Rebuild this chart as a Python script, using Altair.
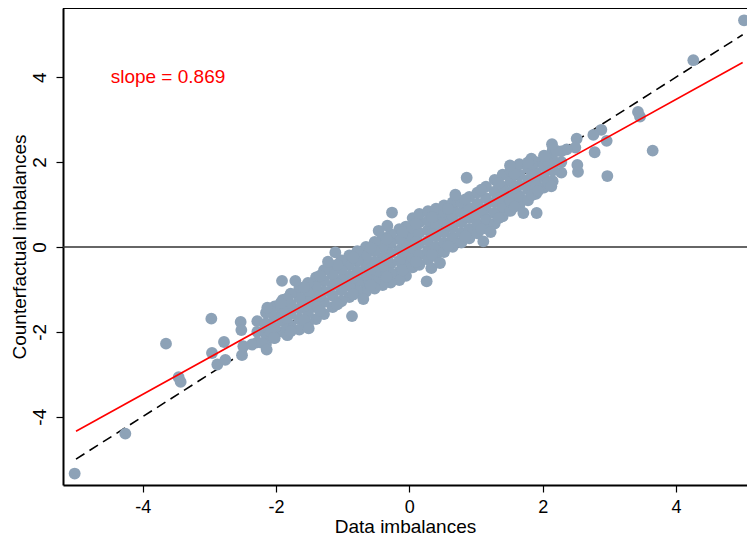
import altair as alt
import pandas as pd

# ---- data (x = data imbalance, y = counterfactual imbalance) ----
cloud_neg = [
    (-0.05, 0.48), (-0.05, 0.25), (-0.05, 0.02), (-0.05, -0.22), (-0.05, -0.45), (-0.05, -0.68),
    (-0.15, 0.42), (-0.15, 0.18), (-0.15, -0.08), (-0.15, -0.33), (-0.15, -0.58), (-0.15, -0.78),
    (-0.28, 0.30), (-0.28, 0.08), (-0.28, -0.15), (-0.28, -0.40), (-0.28, -0.62), (-0.28, -0.84),
    (-0.40, 0.22), (-0.40, 0.00), (-0.40, -0.25), (-0.40, -0.50), (-0.40, -0.72), (-0.40, -0.90),
    (-0.52, 0.12), (-0.52, -0.10), (-0.52, -0.35), (-0.52, -0.60), (-0.52, -0.82), (-0.52, -0.98),
    (-0.65, 0.00), (-0.65, -0.22), (-0.65, -0.45), (-0.65, -0.70), (-0.65, -0.92), (-0.65, -1.05),
    (-0.78, -0.10), (-0.78, -0.33), (-0.78, -0.58), (-0.78, -0.82), (-0.78, -1.05),
    (-0.90, -0.20), (-0.90, -0.42), (-0.90, -0.68), (-0.90, -0.92), (-0.90, -1.18),
    (-1.02, -0.32), (-1.02, -0.54), (-1.02, -0.78), (-1.02, -1.02), (-1.02, -1.28),
    (-1.15, -0.45), (-1.15, -0.66), (-1.15, -0.90), (-1.15, -1.15), (-1.15, -1.42),
    (-1.28, -0.55), (-1.28, -0.80), (-1.28, -1.05), (-1.28, -1.30), (-1.28, -1.58),
    (-1.40, -0.72), (-1.40, -0.95), (-1.40, -1.18), (-1.40, -1.42), (-1.40, -1.70),
    (-1.52, -0.85), (-1.52, -1.08), (-1.52, -1.30), (-1.52, -1.55), (-1.52, -1.80),
    (-1.65, -0.98), (-1.65, -1.20), (-1.65, -1.45), (-1.65, -1.70), (-1.65, -1.95),
    (-1.78, -1.10), (-1.78, -1.35), (-1.78, -1.58), (-1.78, -1.85),
    (-1.90, -1.25), (-1.90, -1.50), (-1.90, -1.75), (-1.90, -2.00),
    (-2.02, -1.40), (-2.02, -1.65), (-2.02, -1.90), (-2.02, -2.15),
    (-2.15, -1.55), (-2.15, -1.80), (-2.15, -2.05), (-2.15, -2.28),
    (-2.28, -1.75), (-2.28, -2.00), (-2.28, -2.25),
    (-0.10, 0.35), (-0.10, -0.12), (-0.10, -0.55),
    (-0.34, 0.18), (-0.34, -0.30), (-0.34, -0.70),
    (-0.58, -0.02), (-0.58, -0.52), (-0.58, -0.90),
    (-0.84, -0.25), (-0.84, -0.72), (-0.84, -1.12),
    (-1.08, -0.42), (-1.08, -0.88), (-1.08, -1.35),
    (-1.34, -0.68), (-1.34, -1.15), (-1.34, -1.50),
    (-1.58, -0.95), (-1.58, -1.40), (-1.58, -1.72),
    (-1.84, -1.22), (-1.84, -1.68), (-1.84, -1.95),
    (-2.08, -1.52), (-2.08, -2.00),
    (-0.26, 0.81), (-0.33, 0.50), (-1.11, -0.13), (-0.86, -1.63), (-0.69, -1.23),
    (-1.51, -1.92), (-1.83, -2.08), (-0.46, 0.38), (-1.22, -0.35),
]

cloud_pos = [
    (0.05, -0.48), (0.05, -0.25), (0.05, -0.02), (0.05, 0.22), (0.05, 0.45), (0.05, 0.68),
    (0.15, -0.42), (0.15, -0.18), (0.15, 0.08), (0.15, 0.33), (0.15, 0.58), (0.15, 0.78),
    (0.28, -0.30), (0.28, -0.08), (0.28, 0.15), (0.28, 0.40), (0.28, 0.62), (0.28, 0.84),
    (0.40, -0.22), (0.40, 0.00), (0.40, 0.25), (0.40, 0.50), (0.40, 0.72), (0.40, 0.90),
    (0.52, -0.12), (0.52, 0.10), (0.52, 0.35), (0.52, 0.60), (0.52, 0.82), (0.52, 0.98),
    (0.65, 0.00), (0.65, 0.22), (0.65, 0.45), (0.65, 0.70), (0.65, 0.92), (0.65, 1.05),
    (0.78, 0.10), (0.78, 0.33), (0.78, 0.58), (0.78, 0.82), (0.78, 1.05),
    (0.90, 0.20), (0.90, 0.42), (0.90, 0.68), (0.90, 0.92), (0.90, 1.18),
    (1.02, 0.32), (1.02, 0.54), (1.02, 0.78), (1.02, 1.02), (1.02, 1.28),
    (1.15, 0.45), (1.15, 0.66), (1.15, 0.90), (1.15, 1.15), (1.15, 1.42),
    (1.28, 0.55), (1.28, 0.80), (1.28, 1.05), (1.28, 1.30), (1.28, 1.58),
    (1.40, 0.72), (1.40, 0.95), (1.40, 1.18), (1.40, 1.42), (1.40, 1.70),
    (1.52, 0.85), (1.52, 1.08), (1.52, 1.30), (1.52, 1.55), (1.52, 1.80),
    (1.65, 0.98), (1.65, 1.20), (1.65, 1.45), (1.65, 1.70), (1.65, 1.95),
    (1.78, 1.10), (1.78, 1.35), (1.78, 1.58), (1.78, 1.85),
    (1.90, 1.25), (1.90, 1.50), (1.90, 1.75), (1.90, 2.00),
    (2.02, 1.40), (2.02, 1.65), (2.02, 1.90), (2.02, 2.15),
    (2.15, 1.55), (2.15, 1.80), (2.15, 2.05), (2.15, 2.28),
    (2.28, 1.75), (2.28, 2.00), (2.28, 2.25),
    (0.10, -0.35), (0.10, 0.12), (0.10, 0.55),
    (0.34, -0.18), (0.34, 0.30), (0.34, 0.70),
    (0.58, 0.02), (0.58, 0.52), (0.58, 0.90),
    (0.84, 0.25), (0.84, 0.72), (0.84, 1.12),
    (1.08, 0.42), (1.08, 0.88), (1.08, 1.35),
    (1.34, 0.68), (1.34, 1.15), (1.34, 1.50),
    (1.58, 0.95), (1.58, 1.40), (1.58, 1.72),
    (1.84, 1.22), (1.84, 1.68), (1.84, 1.95),
    (2.08, 1.52), (2.08, 2.00),
    (0.26, -0.81), (0.33, -0.50), (1.11, 0.13), (0.86, 1.63), (0.69, 1.23),
    (1.51, 1.92), (1.83, 2.08), (0.46, -0.38), (1.22, 0.35),
]

outliers_neg = [
    (-5.02, -5.34), (-4.26, -4.40), (-3.65, -2.28), (-3.46, -3.07), (-3.43, -3.18),
    (-2.97, -1.69), (-2.53, -1.77), (-2.52, -1.96), (-2.78, -2.24), (-2.96, -2.50),
    (-2.88, -2.77), (-2.76, -2.66), (-2.51, -2.55), (-2.49, -2.34), (-2.36, -2.30),
    (-2.21, -2.26), (-2.14, -2.42), (-2.13, -1.43), (-2.16, -1.82), (-1.93, -1.32),
    (-1.71, -0.80), (-2.03, -2.14), (-1.78, -1.99), (-1.91, -0.80),
]

outliers_pos = [
    (5.02, 5.34), (4.26, 4.40), (3.65, 2.27), (3.46, 3.07), (3.43, 3.18),
    (2.97, 1.67), (2.53, 1.77), (2.52, 1.93), (2.78, 2.23), (2.96, 2.50),
    (2.88, 2.76), (2.76, 2.64), (2.51, 2.55), (2.49, 2.34), (2.36, 2.30),
    (2.21, 2.26), (2.14, 2.42), (2.13, 1.43), (2.16, 1.82), (1.93, 1.32),
    (1.71, 0.80), (2.03, 2.14), (1.78, 1.99), (1.91, 0.80),
]

# reference lines
line_x = [-5.0, 5.0]
diag_y = [-5.0, 5.0]          # 45-degree line
fit_y = [-4.345, 4.345]       # fitted line, slope 0.869
zero_y = [0.0]
note_x = [-4.48]
note_y = [4.0]
note_text = ["slope = 0.869"]

x_ticks = [-4, -2, 0, 2, 4]
y_ticks = [-4, -2, 0, 2, 4]

# ---- tables ----
pts = cloud_neg + cloud_pos + outliers_neg + outliers_pos
df_pts = pd.DataFrame(pts, columns=["x", "y"])
df_diag = pd.DataFrame({"x": line_x, "y": diag_y})
df_fit = pd.DataFrame({"x": line_x, "y": fit_y})
df_zero = pd.DataFrame({"y": zero_y})
df_note = pd.DataFrame({"x": note_x, "y": note_y, "t": note_text})
df_one = pd.DataFrame({"a": [0]})

W, H = 684, 477
FONT = "Liberation Sans"

xs = alt.Scale(domain=[-5.195, 5.065], nice=False, zero=False)
ys = alt.Scale(domain=[-5.61, 5.63], nice=False, zero=False)

x_axis = alt.Axis(values=x_ticks, title="Data imbalances", grid=False,
                  labelExpr="'' + datum.value", labelFontSize=18, titleFontSize=19,
                  tickSize=7, labelPadding=6, titlePadding=1)
y_axis = alt.Axis(values=y_ticks, title="Counterfactual imbalances", grid=False,
                  labelExpr="'' + datum.value", labelAngle=270, labelAlign="center",
                  labelBaseline="alphabetic", labelFontSize=19, titleFontSize=19,
                  tickSize=7, labelPadding=11, titlePadding=1)

X = alt.X("x:Q", scale=xs, axis=x_axis)
Y = alt.Y("y:Q", scale=ys, axis=y_axis)

zero_line = alt.Chart(df_zero).mark_rule(color="#333333", strokeWidth=1.5).encode(
    y=alt.Y("y:Q", scale=ys, axis=y_axis))
diag_line = alt.Chart(df_diag).mark_line(color="black", strokeWidth=1.6,
                                         strokeDash=[10, 6]).encode(x=X, y=Y)
points = alt.Chart(df_pts).mark_circle(size=140, color="#8da2b7", opacity=1).encode(x=X, y=Y)
fit_line = alt.Chart(df_fit).mark_line(color="#ff0000", strokeWidth=1.6).encode(x=X, y=Y)
note = alt.Chart(df_note).mark_text(color="#ff0000", fontSize=19, font=FONT,
                                    align="left", baseline="middle").encode(
    x=X, y=Y, text="t:N")
top_frame = alt.Chart(df_one).mark_rule(color="black", strokeWidth=2).encode(
    x=alt.value(0), x2=alt.value(W), y=alt.value(0))

chart = alt.layer(zero_line, diag_line, points, fit_line, note, top_frame).properties(
    width=W, height=H,
    autosize=alt.AutoSizeParams(type="none"),
    padding={"left": 55, "top": 0, "right": 0, "bottom": 52},
).configure_view(stroke=None).configure_axis(
    labelFont=FONT, titleFont=FONT, labelColor="black", titleColor="black",
    titleFontWeight="normal", domainColor="black", domainWidth=2,
    tickColor="black", tickWidth=1.2,
)

chart.save("out.html", embed_options={"renderer": "svg", "actions": False})
